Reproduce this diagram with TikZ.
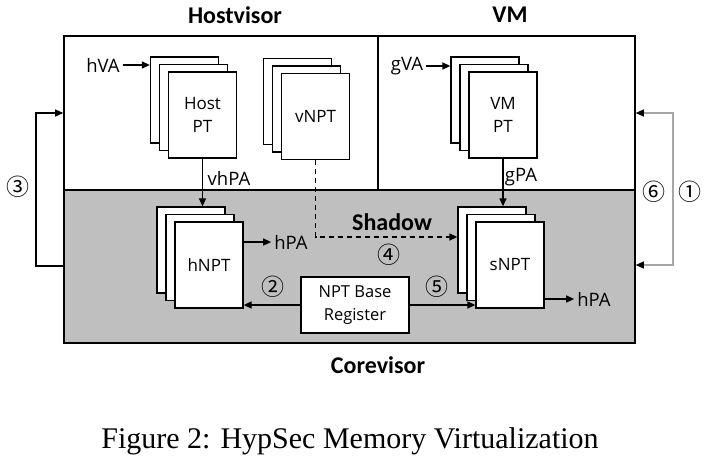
\documentclass[tikz,border=0pt]{standalone}
\usepackage{fontspec}
\setmainfont{Carlito}
\newfontfamily\lblfont{Open Sans}
\newfontfamily\capfont{Liberation Serif}
\newfontfamily\circfont{Noto Sans CJK JP}
\usetikzlibrary{arrows.meta}
\definecolor{coregray}{HTML}{BFBFBF}
\definecolor{linkgray}{HTML}{A6A6A6}
\begin{document}
\begin{tikzpicture}[x=1pt,y=-1pt,
  lbl/.style={font=\lblfont\fontsize{18.5}{23}\selectfont, inner sep=3pt},
  ttl/.style={font=\fontsize{24}{28}\selectfont\bfseries, inner sep=0},
  num/.style={font=\circfont\fontsize{23}{24}\selectfont, inner sep=0},
  page/.style={draw, fill=white, line width=1.3pt, minimum width=68pt, minimum height=86pt,
    inner sep=0, align=center, font=\lblfont\fontsize{17}{23}\selectfont},
  region/.style={draw, line width=1.6pt, inner sep=0},
  tip/.style={-{Triangle[length=8pt,width=7pt]}},
  arr/.style={line width=1.3pt, tip},
  glink/.style={draw=linkgray, line width=1.3pt,
    {Triangle[length=8pt,width=7pt,color=black]}-{Triangle[length=8pt,width=7pt,color=black]}},
  regbox/.style={draw, fill=white, line width=1.3pt, minimum width=108pt, minimum height=56pt,
    inner sep=0, align=center, font=\lblfont\fontsize{16.5}{23}\selectfont}
]
\useasboundingbox (0,0) rectangle (711,461);

% regions
\node[region, fill=coregray, minimum width=571pt, minimum height=153pt] (core) at (349.5,266.5) {};
\node[region, fill=white, minimum width=314pt, minimum height=154pt] (host) at (221,113) {};
\node[region, fill=white, minimum width=257pt, minimum height=154pt] (vm) at (506.5,113) {};

% titles
\node[ttl] (thost) at (235,15) {Hostvisor};
\node[ttl] (tvm) at (510,15) {VM};
\node[ttl] (tcore) at (378,365) {Corevisor};
\node[ttl] (tshadow) at (392,222) {Shadow};

% Host PT stack
\node[page] (hpt1) at (184.5,100) {};
\node[page] (hpt2) at (193.5,107.5) {};
\node[page] (hpt3) at (202.5,115) {Host\\PT};
% vNPT stack
\node[page] (vnpt1) at (297.5,101.5) {};
\node[page] (vnpt2) at (306.5,109) {};
\node[page] (vnpt3) at (315.5,116.5) {vNPT};
% VM PT stack
\node[page] (vmpt1) at (485,100) {};
\node[page] (vmpt2) at (494,107.5) {};
\node[page] (vmpt3) at (503,115) {VM\\PT};
% hNPT stack
\node[page] (hnpt1) at (191,250) {};
\node[page] (hnpt2) at (200,257.5) {};
\node[page] (hnpt3) at (209,265) {hNPT};
% sNPT stack
\node[page] (snpt1) at (492,250) {};
\node[page] (snpt2) at (501,257.5) {};
\node[page] (snpt3) at (510,265) {sNPT};

% NPT base register
\node[regbox] (npt) at (355,305) {NPT Base\\Register};

% labels
\node[lbl] (hva) at (103,65) {hVA};
\node[lbl] (gva) at (407,66) {gVA};
\node[lbl] (vhpa) at (229,178) {vhPA};
\node[lbl] (gpa) at (521,177) {gPA};
\node[lbl] (hpal) at (291,242) {hPA};
\node[lbl] (hpar) at (594,299) {hPA};

% circled numbers
\node[num] (n1) at (690,192) {①};
\node[num] (n2) at (273,287) {②};
\node[num] (n3) at (18,187) {③};
\node[num] (n4) at (389,255) {④};
\node[num] (n5) at (437,287) {⑤};
\node[num] (n6) at (654,192) {⑥};

% connectors
\draw[arr] (hva.east) -- (hva.east -| hpt1.west);
\draw[arr] (gva.east) -- (gva.east -| vmpt1.west);
\draw[arr] (hpt3.south) -- (hpt3.south |- hnpt1.north);
\draw[arr] (vmpt3.south) -- (vmpt3.south |- snpt1.north);
\draw[arr] (hpal.west -| hnpt3.east) -- (hpal.west);
\draw[arr] (hpar.west -| snpt3.east) -- (hpar.west);
\draw[arr] (npt.west) -- (npt.west -| hnpt3.east);
\draw[arr] (npt.east) -- (npt.east -| snpt3.west);
\draw[arr, dashed, dash pattern=on 5pt off 4pt] (vnpt3.south) |- ([yshift=13pt]snpt1.west);

\coordinate (r1) at (673,113);
\coordinate (r2) at (673,265);
\draw[glink] (vm.east |- r1) -- (r1) -- (r2) -- (core.east |- r2);

\coordinate (l1) at (36,113);
\coordinate (l2) at (36,266);
\draw[arr] (core.west |- l2) -- (l2) -- (l1) -- (host.west |- l1);

% caption
\node[font=\capfont\fontsize{30}{34}\selectfont, anchor=base, inner sep=0] (cap) at (350,448)
  {Figure 2: HypSec Memory Virtualization};
\end{tikzpicture}
\end{document}
